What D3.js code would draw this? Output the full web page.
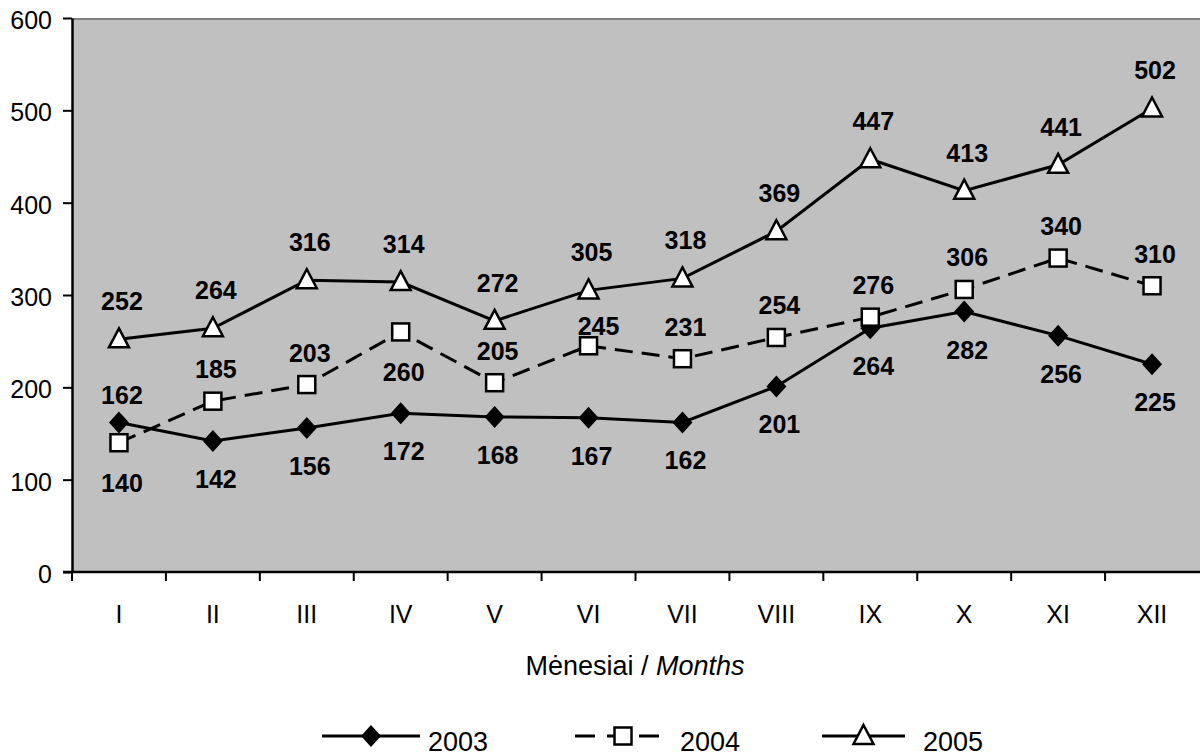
<!DOCTYPE html>
<html>
<head>
<meta charset="utf-8">
<script src="https://cdn.jsdelivr.net/npm/d3@7"></script>
<style>
  html, body { margin: 0; padding: 0; background: #fff; }
  svg { display: block; font-family: "Liberation Sans", Arial, sans-serif; }
</style>
</head>
<body>
<svg id="chart" width="1200" height="756"></svg>
<script>
const months = ["I","II","III","IV","V","VI","VII","VIII","IX","X","XI","XII"];
const years = ["2003","2004","2005"];
const values2003 = [162,142,156,172,168,167,162,201,264,282,256,225];
const values2004 = [140,185,203,260,205,245,231,254,276,306,340,310];
const values2005 = [252,264,316,314,272,305,318,369,447,413,441,502];
const yTicks = [0,100,200,300,400,500,600];
// label side: a = above, b = below
const side2003 = ["a","b","b","b","b","b","b","b","b","b","b","b"];
const side2004 = ["b","a","a","b","a","a","a","a","a","a","a","a"];
const side2005 = ["a","a","a","a","a","a","a","a","a","a","a","a"];

const svg = d3.select("#chart");
const L = 72, R = 1199, T = 18, B = 572;
const FONT = "Liberation Sans, Arial, sans-serif";

const x = d3.scaleBand().domain(months).range([L, R]).paddingInner(0).paddingOuter(0);
const y = d3.scaleLinear().domain([0, 600]).range([B, T]);

// plot background
svg.append("rect").attr("x", L).attr("y", T).attr("width", 1200 - L).attr("height", B - T)
  .attr("fill", "#c0c0c0");
svg.append("line").attr("x1", L).attr("x2", 1200).attr("y1", T + 1).attr("y2", T + 1)
  .attr("stroke", "#808080").attr("stroke-width", 2);

// y axis
const yAxis = svg.append("g").attr("transform", `translate(${L},0)`)
  .call(d3.axisLeft(y).tickValues(yTicks).tickSize(9).tickSizeOuter(0).tickPadding(11));
yAxis.select(".domain").attr("stroke", "#000").attr("stroke-width", 2.5);
yAxis.selectAll(".tick line").attr("stroke", "#000").attr("stroke-width", 2);
yAxis.selectAll("text").attr("font-size", 25).attr("fill", "#000")
  .attr("font-family", FONT).attr("dy", "0.42em");

// x axis: ticks at category boundaries
const bounds = months.map(m => x(m));
const xAxisG = svg.append("g");
xAxisG.append("line").attr("x1", L - 9).attr("x2", 1200).attr("y1", B).attr("y2", B)
  .attr("stroke", "#000").attr("stroke-width", 2.5);
xAxisG.selectAll("line.t").data(bounds).enter().append("line")
  .attr("x1", d => d).attr("x2", d => d).attr("y1", B).attr("y2", B + 9)
  .attr("stroke", "#000").attr("stroke-width", 2);
xAxisG.selectAll("text").data(months).enter().append("text")
  .attr("x", d => x(d) + x.bandwidth() / 2).attr("y", 623)
  .attr("text-anchor", "middle").attr("font-size", 25).text(d => d);

// axis title
const title = svg.append("text").attr("x", 635).attr("y", 675).attr("text-anchor", "middle")
  .attr("font-size", 27);
title.append("tspan").text("Mėnesiai / ");
title.append("tspan").attr("font-style", "italic").text("Months");

const cx = i => x(months[i]) + x.bandwidth() / 2;

const series = [
  { name: years[0], vals: values2003, side: side2003, marker: "diamond", dash: null, above: -27, below: 38 },
  { name: years[1], vals: values2004, side: side2004, marker: "square", dash: "18,9", above: -32, below: 40 },
  { name: years[2], vals: values2005, side: side2005, marker: "triangle", dash: null, above: -38, below: 38 }
];

function drawMarker(g, type, px, py) {
  if (type === "diamond") {
    g.append("path").attr("d", `M${px},${py-11}L${px+10},${py}L${px},${py+11}L${px-10},${py}Z`)
      .attr("fill", "#000");
  } else if (type === "square") {
    g.append("rect").attr("x", px - 8.5).attr("y", py - 8.5).attr("width", 17).attr("height", 17)
      .attr("fill", "#fff").attr("stroke", "#000").attr("stroke-width", 2.5);
  } else {
    g.append("path").attr("d", `M${px},${py-11}L${px+10},${py+8}L${px-10},${py+8}Z`)
      .attr("fill", "#fff").attr("stroke", "#000").attr("stroke-width", 2.5)
      .attr("stroke-linejoin", "miter");
  }
}

const line = d3.line().x((d, i) => cx(i)).y(d => y(d));

series.forEach(s => {
  svg.append("path").datum(s.vals).attr("d", line).attr("fill", "none")
    .attr("stroke", "#000").attr("stroke-width", 3)
    .attr("stroke-dasharray", s.dash);
});
series.forEach(s => {
  const g = svg.append("g");
  s.vals.forEach((v, i) => drawMarker(g, s.marker, cx(i), y(v)));
});
series.forEach((s, si) => {
  const g = svg.append("g");
  s.vals.forEach((v, i) => {
    let dy = s.side[i] === "a" ? s.above : s.below;
    let dx = 3;
    // manually moved label in the original (2004, VI)
    if (si === 1 && i === 5) { dy = -20; dx = 10; }
    g.append("text").attr("x", cx(i) + dx).attr("y", y(v) + dy)
      .attr("dy", "0.36em").attr("text-anchor", "middle")
      .attr("font-size", 25).attr("font-weight", "bold")
      .text(v);
  });
});

// legend
const legendY = 736;
const legendItems = [
  { s: series[0], x0: 322, x1: 420, tx: 428 },
  { s: series[1], x0: 575, x1: 665, tx: 680 },
  { s: series[2], x0: 822, x1: 905, tx: 923 }
];
legendItems.forEach(it => {
  const g = svg.append("g");
  const mid = (it.x0 + it.x1) / 2;
  g.append("line").attr("x1", it.x0).attr("x2", it.x1).attr("y1", legendY).attr("y2", legendY)
    .attr("stroke", "#000").attr("stroke-width", 3)
    .attr("stroke-dasharray", it.s.dash ? "20,12" : null);
  drawMarker(g, it.s.marker, it.s.dash ? mid + 3 : mid, legendY);
  g.append("text").attr("x", it.tx).attr("y", 751).attr("font-size", 27).text(it.s.name);
});
</script>
</body>
</html>
